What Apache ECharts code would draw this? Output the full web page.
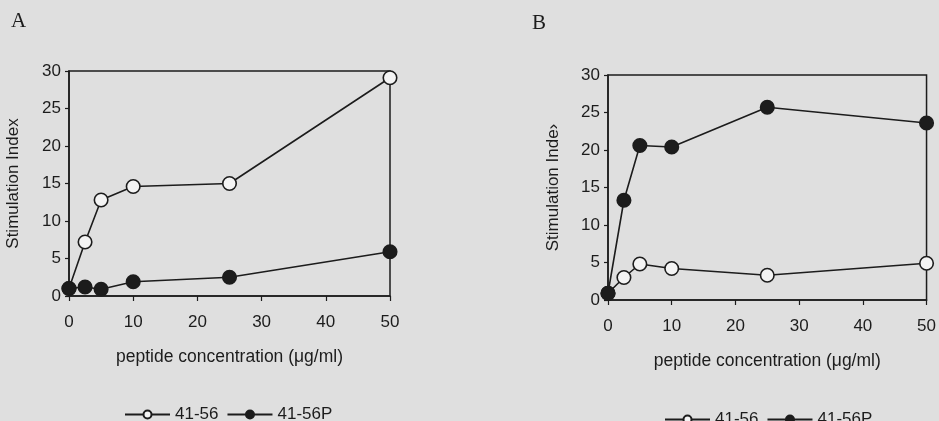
<!DOCTYPE html>
<html>
<head>
<meta charset="utf-8">
<script src="https://cdn.jsdelivr.net/npm/echarts@6/dist/echarts.min.js"></script>
<style>
html,body{margin:0;padding:0;background:#dfdfdf;}
#c{width:939px;height:421px;}
</style>
</head>
<body>
<div id="c"></div>
<script>
var concentrations = [0, 2.5, 5, 10, 25, 50];
var seriesNames = ['41-56', '41-56P'];
var panelA_4156 = [1.0, 7.2, 12.8, 14.6, 15.0, 29.1];
var panelA_4156P = [1.0, 1.2, 0.9, 1.9, 2.5, 5.9];
var panelB_4156 = [0.9, 3.0, 4.8, 4.2, 3.3, 4.9];
var panelB_4156P = [0.9, 13.3, 20.6, 20.4, 25.7, 23.6];
var panelLabels = ['A', 'B'];
var yAxisNames = ['Stimulation Index', 'Stimulation Inde\u203a'];
var xAxisName = 'peptide concentration (\u03bcg/ml)';

function pairs(vals){ return concentrations.map(function(x,i){ return [x, vals[i]]; }); }

var INK = '#1c1c1c';
var FONT = '"Liberation Sans", Arial, sans-serif';

function xAx(idx){
  return {
    type:'value', gridIndex:idx, min:0, max:50, interval:10,
    name:xAxisName, nameLocation:'middle', nameGap:52,
    nameTextStyle:{fontFamily:FONT, fontSize:17.5, color:INK},
    axisLine:{show:true, lineStyle:{color:INK, width:1.5}},
    axisTick:{show:true, length:5, lineStyle:{color:INK, width:1.2}},
    axisLabel:{fontFamily:FONT, fontSize:17, color:INK, margin:18},
    splitLine:{show:false}
  };
}
function yAx(idx, nm, gap){
  return {
    type:'value', gridIndex:idx, min:0, max:30, interval:5,
    name:nm, nameLocation:'middle', nameGap:gap, nameRotate:90,
    nameTextStyle:{fontFamily:FONT, fontSize:17, color:INK},
    axisLine:{show:true, lineStyle:{color:INK, width:1.5}},
    axisTick:{show:true, length:4, lineStyle:{color:INK, width:1.2}},
    axisLabel:{fontFamily:FONT, fontSize:17, color:INK, margin:8},
    splitLine:{show:false}
  };
}
function ser(name, vals, idx, open){
  return {
    type:'line', name:name, xAxisIndex:idx, yAxisIndex:idx,
    data:pairs(vals), symbol:'circle', symbolSize:13.5,
    showAllSymbol:true, animation:false,
    lineStyle:{color:INK, width:1.6},
    itemStyle:{color: open ? '#f4f4f4' : '#1c1c1c', borderColor:INK, borderWidth:1.6}
  };
}
function legend(left, top){
  return {
    left:left, top:top, itemWidth:45, itemHeight:10, itemGap:8,
    data:seriesNames, selectedMode:false,
    textStyle:{fontFamily:FONT, fontSize:17, color:INK}
  };
}

var chart = echarts.init(document.getElementById('c'), null, {renderer:'canvas'});
chart.setOption({
  backgroundColor:'#dfdfdf',
  animation:false,
  grid:[
    {left:69, width:321, top:71, height:225, show:true, borderColor:INK, borderWidth:1.5, backgroundColor:'transparent'},
    {left:608, width:321, top:75, height:225, show:true, borderColor:INK, borderWidth:1.5, backgroundColor:'transparent'}
  ],
  xAxis:[xAx(0), xAx(1)],
  yAxis:[yAx(0, yAxisNames[0], 47), yAx(1, yAxisNames[1], 46)],
  legend:[legend(119, 401), legend(659, 406)],
  series:[
    ser(seriesNames[0], panelA_4156, 0, true),
    ser(seriesNames[1], panelA_4156P, 0, false),
    ser(seriesNames[0], panelB_4156, 1, true),
    ser(seriesNames[1], panelB_4156P, 1, false)
  ],
  graphic:[
    {type:'text', left:11, top:11, style:{text:panelLabels[0], font:'21px "Liberation Serif", serif', fill:INK}},
    {type:'text', left:532, top:13, style:{text:panelLabels[1], font:'21px "Liberation Serif", serif', fill:INK}}
  ]
});
</script>
</body>
</html>
